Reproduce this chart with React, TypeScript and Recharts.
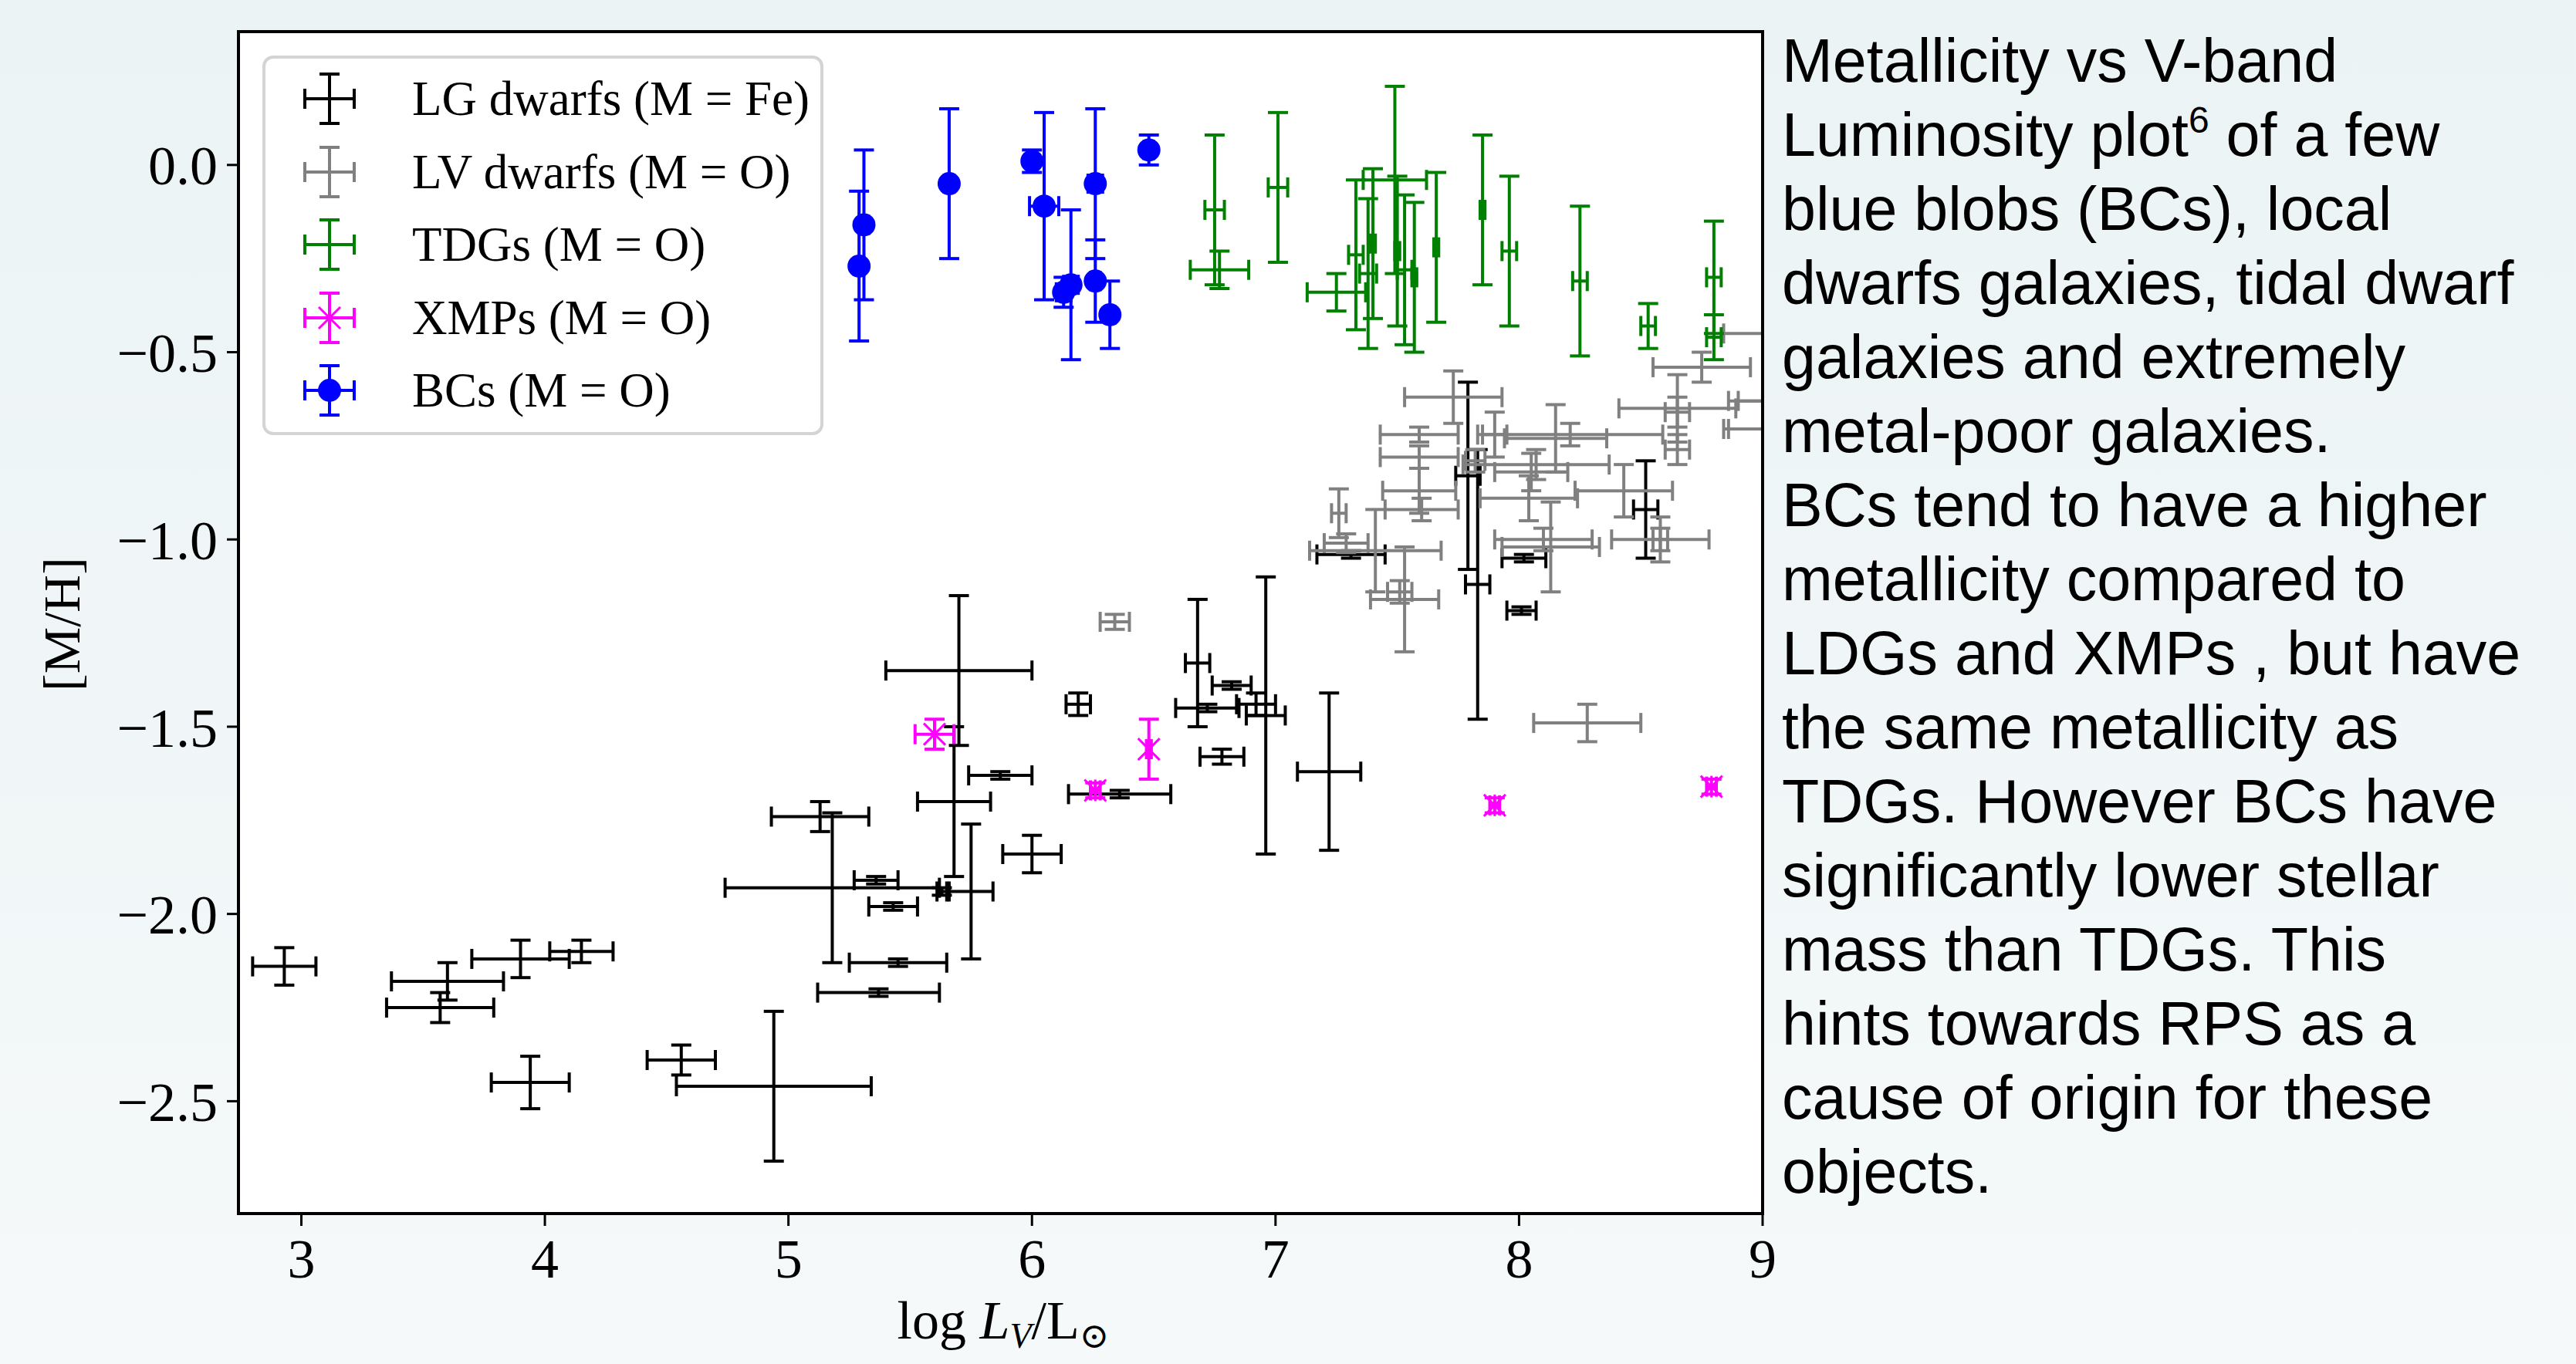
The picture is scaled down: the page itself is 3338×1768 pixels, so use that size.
import React from "react";
import { ScatterChart, Scatter, XAxis, YAxis, ErrorBar } from "recharts";

// each row: [log L_V, [M/H], x error, y error]
const lgDwarfs = [
  [2.93, -2.14, 0.13, 0.05], [3.6, -2.18, 0.23, 0.05], [3.57, -2.25, 0.22, 0.04],
  [3.9, -2.12, 0.2, 0.05], [4.15, -2.1, 0.13, 0.03], [3.94, -2.45, 0.16, 0.07],
  [4.56, -2.39, 0.14, 0.04], [4.94, -2.46, 0.4, 0.2], [5.13, -1.74, 0.2, 0.04],
  [5.18, -1.93, 0.44, 0.2], [5.36, -1.91, 0.09, 0.01], [5.43, -1.98, 0.1, 0.01],
  [5.45, -2.13, 0.2, 0.01], [5.37, -2.21, 0.25, 0.01], [5.63, -1.94, 0.02, 0.01],
  [5.75, -1.94, 0.09, 0.18], [5.7, -1.35, 0.3, 0.2], [5.68, -1.7, 0.15, 0.2],
  [5.87, -1.63, 0.13, 0.01], [6.0, -1.84, 0.12, 0.05], [6.19, -1.44, 0.05, 0.03],
  [6.36, -1.68, 0.21, 0.01], [6.68, -1.33, 0.05, 0.17], [6.72, -1.45, 0.13, 0.01],
  [6.82, -1.39, 0.08, 0.01], [6.78, -1.58, 0.09, 0.02], [6.96, -1.47, 0.08, 0.37],
  [6.92, -1.44, 0.08, 0.03], [7.22, -1.62, 0.13, 0.21], [7.31, -1.04, 0.14, 0.01],
  [7.79, -0.83, 0.05, 0.25], [7.83, -1.12, 0.05, 0.36], [8.02, -1.05, 0.09, 0.01],
  [8.01, -1.19, 0.06, 0.01], [8.52, -0.92, 0.05, 0.13],
];

const lvDwarfs = [
  [6.34, -1.22, 0.06, 0.02], [8.28, -1.49, 0.22, 0.05], [7.73, -0.62, 0.2, 0.07],
  [7.59, -0.72, 0.16, 0.02], [7.59, -0.78, 0.16, 0.03], [7.59, -0.87, 0.15, 0.06],
  [7.6, -0.92, 0.15, 0.03], [7.26, -0.93, 0.03, 0.065], [7.29, -1.01, 0.09, 0.025],
  [7.41, -1.03, 0.27, 0.11], [7.53, -1.16, 0.14, 0.14], [7.51, -1.14, 0.05, 0.03],
  [7.9, -0.72, 0.05, 0.06], [8.15, -0.73, 0.21, 0.09], [8.21, -0.72, 0.38, 0.03],
  [8.05, -0.82, 0.15, 0.05], [8.07, -0.8, 0.3, 0.04], [8.04, -0.89, 0.2, 0.06],
  [8.13, -1.02, 0.2, 0.12], [8.1, -1.0, 0.2, 0.03], [8.43, -0.87, 0.2, 0.07],
  [8.58, -1.0, 0.2, 0.06], [8.58, -1.0, 0.03, 0.03], [8.65, -0.65, 0.24, 0.09],
  [8.65, -0.66, 0.05, 0.04], [8.65, -0.76, 0.05, 0.04], [8.75, -0.54, 0.2, 0.04],
  [7.82, -0.79, 0.04, 0.03], [9.12, -0.45, 0.28, 0.02], [9.12, -0.63, 0.26, 0.03],
  [9.15, -0.63, 0.25, 0.03], [9.1, -0.705, 0.26, 0.02], [9.12, -0.705, 0.26, 0.02],
];

const tdgs = [
  [6.75, -0.12, 0.04, 0.2], [6.77, -0.28, 0.12, 0.05], [7.01, -0.06, 0.04, 0.2],
  [7.25, -0.34, 0.12, 0.05], [7.33, -0.24, 0.03, 0.2], [7.38, -0.29, 0.035, 0.2],
  [7.4, -0.21, 0.01, 0.2], [7.49, -0.04, 0.13, 0.25], [7.5, -0.23, 0.01, 0.2],
  [7.53, -0.28, 0.03, 0.2], [7.57, -0.3, 0.01, 0.2], [7.66, -0.22, 0.01, 0.2],
  [7.85, -0.12, 0.01, 0.2], [7.96, -0.23, 0.03, 0.2], [8.25, -0.31, 0.03, 0.2],
  [8.53, -0.43, 0.03, 0.06], [8.8, -0.3, 0.03, 0.15], [8.8, -0.46, 0.03, 0.06],
];

const xmps = [
  [5.6, -1.52, 0.08, 0.04], [6.48, -1.56, 0.01, 0.08], [6.26, -1.67, 0.02, 0.02],
  [7.9, -1.71, 0.02, 0.02], [8.79, -1.66, 0.02, 0.02],
];

const bcs = [
  [5.29, -0.27, 0.02, 0.2], [5.31, -0.16, 0.02, 0.2], [5.66, -0.05, 0.02, 0.2],
  [6.0, 0.01, 0.02, 0.03], [6.05, -0.11, 0.06, 0.25], [6.13, -0.34, 0.03, 0.04],
  [6.16, -0.32, 0.03, 0.2], [6.26, -0.05, 0.03, 0.2], [6.26, -0.31, 0.02, 0.11],
  [6.32, -0.4, 0.02, 0.09], [6.48, 0.04, 0.02, 0.04],
];

const xTicks = [3, 4, 5, 6, 7, 8, 9];
const yTicks = [0, -0.5, -1, -1.5, -2, -2.5];

const legendLabels = ["LG dwarfs (M = Fe)", "LV dwarfs (M = O)", "TDGs (M = O)", "XMPs (M = O)", "BCs (M = O)"];
const colors = ["#000000", "#808080", "#008000", "#ff00ff", "#0000ff"];

const noteLines = [
  "Metallicity vs V-band",
  "Luminosity plot^6 of a few",
  "blue blobs (BCs), local",
  "dwarfs galaxies, tidal dwarf",
  "galaxies and extremely",
  "metal-poor galaxies.",
  "BCs tend to have a higher",
  "metallicity compared to",
  "LDGs and XMPs , but have",
  "the same metallicity as",
  "TDGs. However BCs have",
  "significantly lower stellar",
  "mass than TDGs. This",
  "hints towards RPS as a",
  "cause of origin for these",
  "objects.",
];

const rows = (a: number[][]) => a.map(([x, y, ex, ey]) => ({ x, y, ex, ey }));

const serif = "'Liberation Serif', 'DejaVu Serif', serif";
const sans = "'Liberation Sans', Arial, sans-serif";
const pageBg = "linear-gradient(180deg, #ebf3f4 0%, #f5f9fa 100%)";

const NoMark = () => <g />;
const BlueDot = (p: any) => <circle cx={p.cx} cy={p.cy} r={15} fill="#0000ff" />;
const Asterisk = (p: any) => {
  const r = 14;
  return (
    <g stroke="#ff00ff" strokeWidth={3}>
      <line x1={p.cx} y1={p.cy - r} x2={p.cx} y2={p.cy + r} />
      <line x1={p.cx - r} y1={p.cy - r} x2={p.cx + r} y2={p.cy + r} />
      <line x1={p.cx - r} y1={p.cy + r} x2={p.cx + r} y2={p.cy - r} />
    </g>
  );
};

function Bars({ color }: { color: string }) {
  return [
    <ErrorBar key="x" dataKey="ex" direction="x" width={13} stroke={color} strokeWidth={4} isAnimationActive={false} />,
    <ErrorBar key="y" dataKey="ey" direction="y" width={13} stroke={color} strokeWidth={4} isAnimationActive={false} />,
  ];
}

function LegendIcon({ i }: { i: number }) {
  const c = colors[i];
  return (
    <svg width={80} height={80} style={{ position: "absolute", left: 43, top: -40 }}>
      <g stroke={c} strokeWidth={4}>
        <line x1={8} y1={40} x2={72} y2={40} />
        <line x1={8} y1={27} x2={8} y2={53} />
        <line x1={72} y1={27} x2={72} y2={53} />
        <line x1={40} y1={8} x2={40} y2={72} />
        <line x1={27} y1={8} x2={53} y2={8} />
        <line x1={27} y1={72} x2={53} y2={72} />
      </g>
      {i === 3 && (
        <g stroke={c} strokeWidth={3}>
          <line x1={26} y1={26} x2={54} y2={54} />
          <line x1={26} y1={54} x2={54} y2={26} />
        </g>
      )}
      {i === 4 && <circle cx={40} cy={40} r={15} fill={c} />}
    </svg>
  );
}

export default function App() {
  const fmtY = (v: number) => (v === 0 ? "0.0" : "\u2212" + Math.abs(v).toFixed(1));
  return (
    <div
      style={{
        position: "absolute", left: 0, top: 0, width: 3338, height: 1768, overflow: "hidden",
        background: pageBg,
      }}
    >
      <div style={{ position: "absolute", left: 310, top: 41, width: 1974, height: 1532, background: "#fff" }} />
      <div style={{ position: "absolute", left: 0, top: 0 }}>
        <ScatterChart width={2400} height={1768} margin={{ top: 41, right: 116, bottom: 75, left: 10 }}>
          <XAxis
            type="number" dataKey="x" domain={[2.745, 9]} ticks={xTicks} allowDataOverflow
            height={120} axisLine={false} tickSize={16} tickMargin={16}
            tickLine={{ stroke: "#000", strokeWidth: 3 }}
            tick={{ fontSize: 72, fill: "#000", fontFamily: serif }}
          />
          <YAxis
            type="number" dataKey="y" domain={[-2.8, 0.356]} ticks={yTicks} allowDataOverflow
            width={300} axisLine={false} tickSize={16} tickMargin={12} tickFormatter={fmtY}
            tickLine={{ stroke: "#000", strokeWidth: 3 }}
            tick={{ fontSize: 72, fill: "#000", fontFamily: serif }}
          />
          <Scatter data={rows(lgDwarfs)} shape={NoMark} isAnimationActive={false}>
            {Bars({ color: colors[0] })}
          </Scatter>
          <Scatter data={rows(lvDwarfs)} shape={NoMark} isAnimationActive={false}>
            {Bars({ color: colors[1] })}
          </Scatter>
          <Scatter data={rows(tdgs)} shape={NoMark} isAnimationActive={false}>
            {Bars({ color: colors[2] })}
          </Scatter>
          <Scatter data={rows(xmps)} shape={Asterisk} isAnimationActive={false}>
            {Bars({ color: colors[3] })}
          </Scatter>
          <Scatter data={rows(bcs)} shape={BlueDot} isAnimationActive={false}>
            {Bars({ color: colors[4] })}
          </Scatter>
        </ScatterChart>
      </div>
      {/* hides error bars that run past the right spine */}
      <div
        style={{
          position: "absolute", left: 2286, top: 0, width: 200, height: 1575,
          background: pageBg, backgroundSize: "3338px 1768px", backgroundPosition: "-2286px 0",
        }}
      />
      <div
        style={{
          position: "absolute", left: 307, top: 39, width: 1979, height: 1536,
          border: "4px solid #000", boxSizing: "border-box", pointerEvents: "none",
        }}
      />
      <div
        style={{
          position: "absolute", left: 340, top: 72, width: 727, height: 492, boxSizing: "border-box",
          border: "4px solid #d4d4d4", borderRadius: 14, background: "rgba(255,255,255,0.85)",
        }}
      >
        {legendLabels.map((t, i) => (
          <div key={t} style={{ position: "absolute", left: 0, top: 52 + i * 94.5 }}>
            <LegendIcon i={i} />
            <div
              style={{
                position: "absolute", left: 190, top: -40, height: 80, lineHeight: "80px",
                fontFamily: serif, fontSize: 63, whiteSpace: "nowrap", color: "#000",
              }}
            >
              {t}
            </div>
          </div>
        ))}
      </div>
      <div
        style={{
          position: "absolute", left: -120, top: 773, width: 400, lineHeight: "72px", textAlign: "center",
          fontFamily: serif, fontSize: 68, transform: "rotate(-90deg)", color: "#000",
        }}
      >
        [M/H]
      </div>
      <div
        style={{
          position: "absolute", left: 1000, top: 1676, width: 600, height: 84, lineHeight: "72px",
          textAlign: "center", fontFamily: serif, fontSize: 70, whiteSpace: "nowrap", color: "#000",
        }}
      >
        log <i>L</i>
        <span style={{ fontSize: 46, fontStyle: "italic", position: "relative", top: 12 }}>V</span>/L
        <span style={{ fontSize: 46, position: "relative", top: 12 }}>{"\u2299"}</span>
      </div>
      {noteLines.map((line, i) => {
        const parts = line.split("^6");
        return (
          <div
            key={i}
            style={{
              position: "absolute", left: 2309, top: 31 + i * 96, lineHeight: "96px", height: 96,
              fontFamily: sans, fontSize: 79, whiteSpace: "nowrap", color: "#000",
            }}
          >
            {parts[0]}
            {parts.length > 1 && (
              <>
                <span style={{ fontSize: 48, position: "relative", top: -30 }}>6</span>
                {parts[1]}
              </>
            )}
          </div>
        );
      })}
    </div>
  );
}
